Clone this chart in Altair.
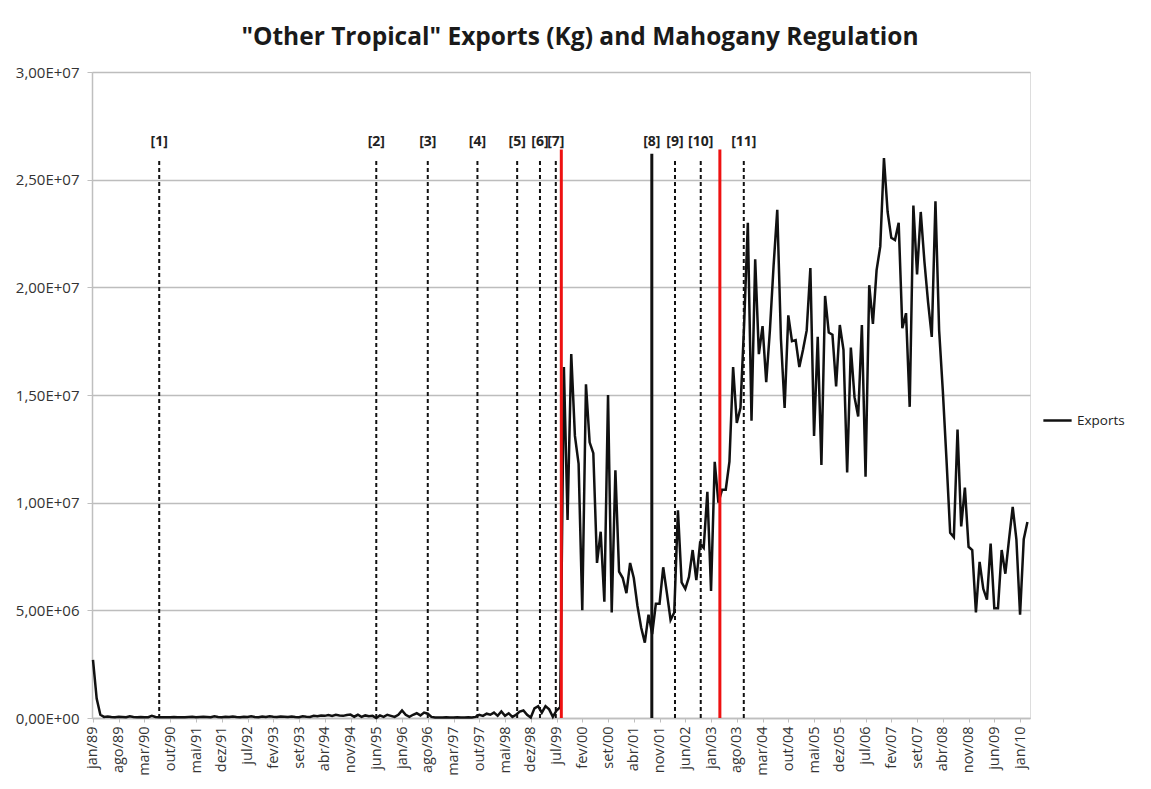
import json
import altair as alt
import pandas as pd

TITLE = '"Other Tropical" Exports (Kg) and Mahogany Regulation'

x_tick_labels = [
    "jan/89", "ago/89", "mar/90", "out/90", "mai/91", "dez/91", "jul/92", "fev/93",
    "set/93", "abr/94", "nov/94", "jun/95", "jan/96", "ago/96", "mar/97", "out/97",
    "mai/98", "dez/98", "jul/99", "fev/00", "set/00", "abr/01", "nov/01", "jun/02",
    "jan/03", "ago/03", "mar/04", "out/04", "mai/05", "dez/05", "jul/06", "fev/07",
    "set/07", "abr/08", "nov/08", "jun/09", "jan/10",
]
y_tick_labels = ["0,00E+00", "5,00E+06", "1,00E+07", "1,50E+07", "2,00E+07", "2,50E+07", "3,00E+07"]

# monthly exports, millions of kg, jan/89 .. mar/10
exports_millions = [
    2.7, 0.9, 0.15, 0.05, 0.07, 0.05, 0.04, 0.06, 0.05, 0.04,
    0.08, 0.05, 0.04, 0.05, 0.04, 0.04, 0.10, 0.05, 0.03, 0.04,
    0.03, 0.04, 0.05, 0.04, 0.03, 0.04, 0.05, 0.06, 0.04, 0.05,
    0.06, 0.05, 0.04, 0.08, 0.05, 0.04, 0.06, 0.05, 0.07, 0.05,
    0.04, 0.06, 0.05, 0.08, 0.05, 0.04, 0.07, 0.05, 0.08, 0.06,
    0.05, 0.07, 0.06, 0.05, 0.07, 0.05, 0.04, 0.08, 0.06, 0.05,
    0.10, 0.08, 0.12, 0.10, 0.14, 0.10, 0.15, 0.12, 0.10, 0.14,
    0.16, 0.06, 0.15, 0.05, 0.12, 0.08, 0.10, 0.00, 0.12, 0.05,
    0.15, 0.10, 0.05, 0.15, 0.35, 0.15, 0.05, 0.15, 0.22, 0.12,
    0.25, 0.20, 0.05, 0.02, 0.02, 0.02, 0.03, 0.02, 0.02, 0.03,
    0.02, 0.02, 0.03, 0.02, 0.05, 0.15, 0.10, 0.20, 0.15, 0.25,
    0.10, 0.30, 0.10, 0.22, 0.05, 0.15, 0.30, 0.35, 0.15, 0.02,
    0.45, 0.55, 0.25, 0.55, 0.40, 0.05, 0.35, 0.50, 16.3, 9.2,
    16.9, 13.1, 11.8, 5.0, 15.5, 12.8, 12.3, 7.2, 8.65, 5.4,
    15.0, 4.9, 11.5, 6.8, 6.5, 5.8, 7.2, 6.5, 5.2, 4.2,
    3.5, 4.8, 3.9, 5.3, 5.3, 7.0, 5.8, 4.55, 4.9, 9.65,
    6.3, 6.0, 6.55, 7.8, 6.4, 8.1, 7.9, 10.5, 5.9, 11.9,
    10.0, 10.6, 10.6, 11.9, 16.3, 13.7, 14.4, 18.3, 23.0, 13.8,
    21.3, 16.9, 18.2, 15.6, 18.0, 21.0, 23.6, 17.6, 14.4, 18.7,
    17.5, 17.55, 16.3, 17.1, 18.0, 20.9, 13.1, 17.7, 11.75, 19.6,
    17.9, 17.8, 15.4, 18.25, 17.1, 11.4, 17.2, 14.9, 14.0, 18.25,
    11.2, 20.1, 18.3, 20.8, 21.9, 26.0, 23.5, 22.3, 22.2, 23.0,
    18.1, 18.8, 14.45, 23.8, 20.6, 23.5, 21.2, 19.3, 17.7, 24.0,
    18.0, 15.2, 12.0, 8.6, 8.4, 13.4, 8.9, 10.7, 7.95, 7.8,
    4.9, 7.25, 6.0, 5.5, 8.1, 5.1, 5.1, 7.8, 6.7, 8.3,
    9.8, 8.3, 4.8, 8.3, 9.1,
]

dashed_event_labels = ["[1]", "[2]", "[3]", "[4]", "[5]", "[6]", "[7]", "[9]", "[10]", "[11]"]
dashed_event_months = [18, 77, 91, 104.5, 115.3, 121.5, 125.8, 158.2, 165.2, 176.9]
solid_event_label = "[8]"
solid_event_month = 151.9
red_event_months = [127.3, 170.4]

EVENT_TOP = 2.6e7
SOLID_TOP = 2.62e7
RED_TOP = 2.64e7
LABEL_Y = 2.675e7

df = pd.DataFrame({
    "month": list(range(len(exports_millions))),
    "exports": [v * 1e6 for v in exports_millions],
    "series": ["Exports"] * len(exports_millions),
})
dashed_df = pd.DataFrame({"month": dashed_event_months, "label": dashed_event_labels,
                          "bottom": 0.0, "top": EVENT_TOP})
solid_df = pd.DataFrame({"month": [solid_event_month], "label": [solid_event_label],
                         "bottom": [0.0], "top": [SOLID_TOP]})
red_df = pd.DataFrame({"month": red_event_months, "bottom": 0.0, "top": RED_TOP})
labels_df = pd.concat([dashed_df, solid_df], ignore_index=True)
labels_df["ly"] = LABEL_Y

FONT = "Open Sans"

x_scale = alt.Scale(domain=[-0.27, 254.7], nice=False, zero=False)
y_scale = alt.Scale(domain=[0, 3e7], nice=False)

x_axis = alt.Axis(
    values=list(range(0, 253, 7)),
    labelExpr=json.dumps(x_tick_labels) + "[round(datum.value/7)]",
    labelAngle=-90, labelAlign="right", labelBaseline="middle",
    labelFontSize=14.5, labelFont=FONT, labelColor="#333333", labelPadding=4,
    domainColor="#bfbfbf", domainWidth=1.5, tickColor="#bfbfbf", tickSize=4,
    grid=False, title=None, labelOverlap=False, labelBound=False, labelFlush=False,
)
y_axis = alt.Axis(
    values=[0, 5e6, 1e7, 1.5e7, 2e7, 2.5e7, 3e7],
    labelExpr=json.dumps(y_tick_labels) + "[round(datum.value/5000000)]",
    labelFontSize=15, labelFont=FONT, labelColor="#333333", labelPadding=8,
    domainColor="#bfbfbf", domainWidth=1.5, tickColor="#bfbfbf", tickSize=5,
    grid=True, gridColor="#bdbdbd", gridWidth=1.5, title=None, labelOverlap=False,
)

X = alt.X("month:Q", scale=x_scale, axis=x_axis)

line = alt.Chart(df).mark_line(strokeWidth=2.5, interpolate="linear").encode(
    x=X,
    y=alt.Y("exports:Q", scale=y_scale, axis=y_axis),
    color=alt.Color("series:N", scale=alt.Scale(domain=["Exports"], range=["#111111"]),
                    legend=alt.Legend(title=None, orient="none", legendX=950, legendY=333,
                                      symbolType="stroke", symbolStrokeWidth=2.5,
                                      symbolSize=800, labelFontSize=13.5, labelFont=FONT,
                                      labelOffset=4, labelColor="#222222", labelLimit=200)),
)

dashed = alt.Chart(dashed_df).mark_rule(color="#111111", strokeWidth=2, strokeDash=[4, 3]).encode(
    x=X, y=alt.Y("bottom:Q", scale=y_scale, axis=y_axis), y2="top:Q",
)
solid = alt.Chart(solid_df).mark_rule(color="#111111", strokeWidth=3).encode(
    x=X, y=alt.Y("bottom:Q", scale=y_scale, axis=y_axis), y2="top:Q",
)
red = alt.Chart(red_df).mark_rule(color="#ee1111", strokeWidth=3).encode(
    x=X, y=alt.Y("bottom:Q", scale=y_scale, axis=y_axis), y2="top:Q",
)
labels = alt.Chart(labels_df).mark_text(fontSize=14, font=FONT, fontWeight="bold",
                                         color="#222222", baseline="middle").encode(
    x=X, y=alt.Y("ly:Q", scale=y_scale, axis=y_axis), text="label:N",
)

chart = alt.layer(line, dashed, solid, red, labels).properties(
    width=938, height=646,
    padding={"left": 84, "top": 64, "right": 104, "bottom": 60},
    autosize=alt.AutoSizeParams(type="none"),
    title=alt.TitleParams(TITLE, fontSize=24.5, font=FONT, fontWeight="bold",
                          color="#1a1a1a", offset=15, dx=19, anchor="middle"),
).configure_view(stroke=None).configure(background="white").configure_axisX(labelOverlap=False)

chart.save("out.html", embed_options={"renderer": "svg", "actions": False})
